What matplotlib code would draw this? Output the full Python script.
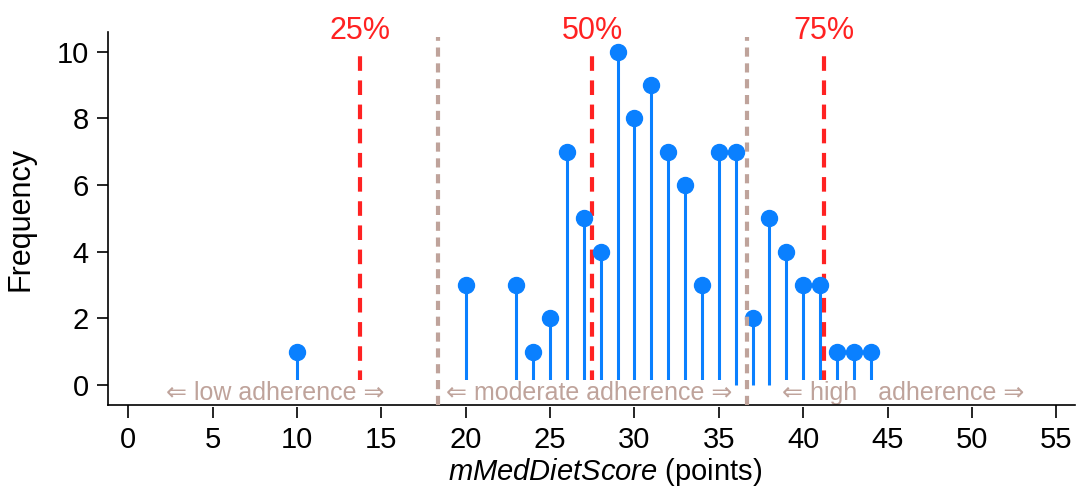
import matplotlib
matplotlib.use('Agg')
import matplotlib.pyplot as plt

plt.rcParams['font.family'] = ['Liberation Sans', 'DejaVu Sans']
plt.rcParams['mathtext.fontset'] = 'custom'
plt.rcParams['mathtext.it'] = 'Liberation Sans:italic'
plt.rcParams['mathtext.rm'] = 'Liberation Sans'

scores = [10, 20, 23, 24, 25, 26, 27, 28, 29, 30, 31, 32, 33, 34, 35, 36,
          37, 38, 39, 40, 41, 42, 43, 44]
freq = [1, 3, 3, 1, 2, 7, 5, 4, 10, 8, 9, 7, 6, 3, 7, 7,
        2, 5, 4, 3, 3, 1, 1, 1]

quartiles = [13.75, 27.5, 41.25]
quartile_labels = ['25%', '50%', '75%']
cutoffs = [55 / 3, 110 / 3]
zone_labels = ['\u21d0 low adherence \u21d2',
               '\u21d0 moderate adherence \u21d2',
               '\u21d0 high   adherence \u21d2']
zone_centers = [8.7, 27.3, 45.9]

blue = '#0a80ff'
red = '#ff2222'
brown = '#bfa39b'

fig = plt.figure(figsize=(10.77, 4.88), dpi=100)
ax = fig.add_axes([0.1003, 0.170, 0.8977, 0.764])

# stems + heads
ax.vlines(scores, 0, freq, color=blue, lw=2.2, zorder=2)
ax.plot(scores, freq, 'o', color=blue, ms=11.5, zorder=3)

# quartile lines
for q, lab in zip(quartiles, quartile_labels):
    ax.plot([q, q], [0, 10], color=red, lw=3, ls=(0, (3.5, 2.3)), zorder=1.9)
    ax.text(q, 10.62, lab, color=red, fontsize=22, ha='center', va='center',
            clip_on=False)

# adherence cut-offs
for c in cutoffs:
    ax.plot([c, c], [-0.6, 10.45], color=brown, lw=3, ls=(0, (2.2, 1.6)),
            zorder=5, clip_on=False)

for xc, lab in zip(zone_centers, zone_labels):
    ax.text(xc, -0.24, lab, color=brown, fontsize=18, ha='center', va='center',
            zorder=2.3, bbox=dict(facecolor='white', edgecolor='none', pad=1.0))

ax.set_xlim(-1.2, 56.1)
ax.set_ylim(-0.6, 10.58)
ax.set_xticks(range(0, 56, 5))
ax.set_yticks(range(0, 11, 2))
ax.tick_params(labelsize=21, width=1.2, direction='out')
ax.tick_params(axis='x', length=9, pad=6)
ax.tick_params(axis='y', length=8, pad=6)
ax.spines['top'].set_visible(False)
ax.spines['right'].set_visible(False)
ax.spines['left'].set_linewidth(1.2)
ax.spines['bottom'].set_linewidth(1.2)

ax.set_ylabel('Frequency', fontsize=22)
ax.set_xlabel(r'$\it{mMedDietScore}$ (points)', fontsize=21)
ax.yaxis.set_label_coords(-0.0755, 0.5)
ax.xaxis.set_label_coords(0.514, -0.136)

fig.savefig('out.png', dpi=100)
